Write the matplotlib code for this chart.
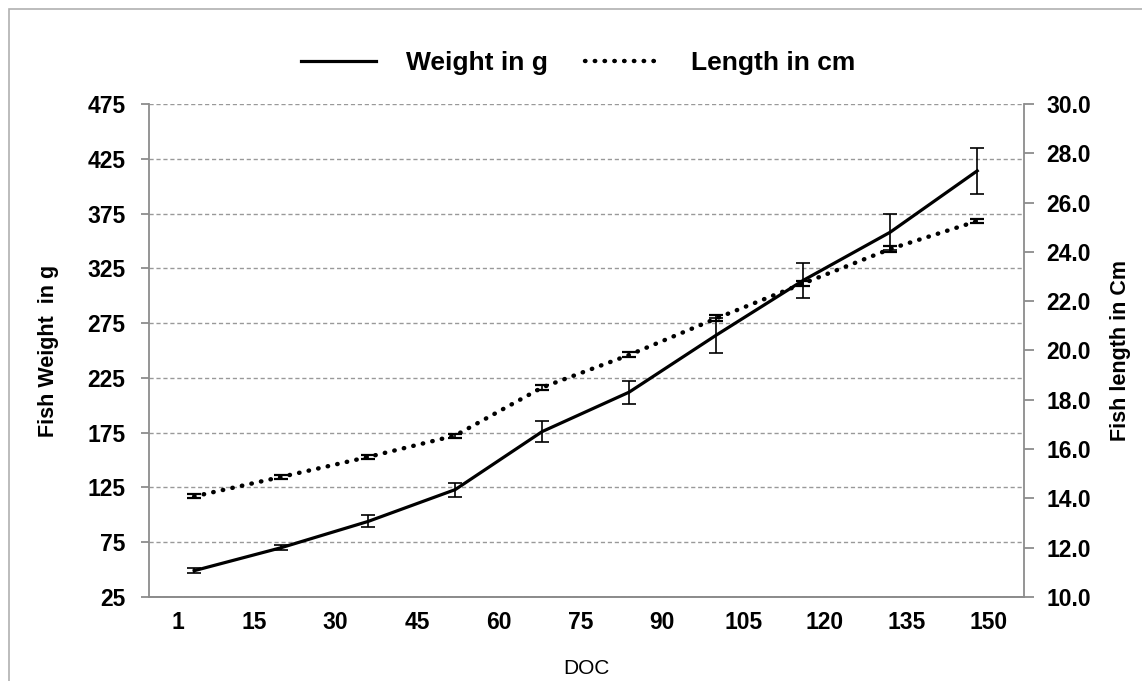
import matplotlib
matplotlib.use("Agg")
import matplotlib.pyplot as plt
from matplotlib.lines import Line2D
from matplotlib.patches import Rectangle

plt.rcParams["font.family"] = ["Liberation Sans", "DejaVu Sans"]
plt.rcParams["font.weight"] = "bold"

doc = [4, 20, 36, 52, 68, 84, 100, 116, 132, 148]
weight = [49, 70, 94, 123, 176, 212, 264, 314, 358, 414]
weight_err = [2.5, 2.5, 5.5, 6.5, 9.5, 10.5, 16, 16, 16.5, 21]
length = [14.08, 14.87, 15.68, 16.55, 18.5, 19.82, 21.3, 22.72, 24.12, 25.25]
length_err = [0.08, 0.08, 0.08, 0.08, 0.1, 0.1, 0.12, 0.1, 0.12, 0.08]

doc_ticks = [1, 15, 30, 45, 60, 75, 90, 105, 120, 135, 150]
weight_ticks = list(range(25, 476, 50))
length_ticks = [10 + 2 * i for i in range(11)]

W, H = 1142, 681
fig = plt.figure(figsize=(W / 100, H / 100), dpi=100)
ax = fig.add_axes([149 / W, 1 - 597 / H, (1024 - 149) / W, (597 - 104) / H])
ax2 = ax.twinx()

grey = "#8c8c8c"

ax.errorbar(doc, weight, yerr=weight_err, color="black", lw=2.3, elinewidth=1.2,
            capsize=5, capthick=1.2, zorder=3)
ax2.errorbar(doc, length, yerr=length_err, color="black", lw=3.2, elinewidth=1.2,
             capsize=5, capthick=1.6, ls=(0, (0.1, 2.1)), dash_capstyle="round", zorder=3)

ax.set_xlim(-4.3, 156.6)
ax.set_ylim(25, 475)
ax2.set_ylim(10, 30)
ax.set_xticks(doc_ticks)
ax.set_xticklabels([str(d) for d in doc_ticks], fontweight="bold")
ax.set_yticks(weight_ticks)
ax.set_yticklabels([str(v) for v in weight_ticks], fontweight="bold")
ax2.set_yticks(length_ticks)
ax2.set_yticklabels([f"{v:.1f}" for v in length_ticks], fontweight="bold")

ax.yaxis.grid(True, ls=(0, (3, 2)), color="#999999", lw=1)
ax.set_axisbelow(True)

for a in (ax, ax2):
    for s in a.spines.values():
        s.set_color(grey)
        s.set_linewidth(1.3)
    a.spines["top"].set_visible(False)
ax.spines["right"].set_visible(False)
ax2.spines["left"].set_visible(False)

ax.tick_params(axis="x", length=0, pad=10, labelsize=16.5)
ax.tick_params(axis="y", length=6, color=grey, width=1.3, pad=11, labelsize=16.5)
ax2.tick_params(axis="y", length=7, color=grey, width=1.3, pad=9, labelsize=16.5)

ax.set_xlabel("DOC", fontsize=15, fontweight="normal", labelpad=18)
ax.set_ylabel("Fish Weight  in g", fontsize=15.5, fontweight="bold", labelpad=20)
ax2.set_ylabel("Fish length in Cm", fontsize=15.5, fontweight="bold", labelpad=14)

handles = [Line2D([], [], color="black", lw=2.3),
           Line2D([], [], color="black", lw=3.2, ls=(0, (0.1, 2.1)), dash_capstyle="round")]
fig.legend(handles, ["Weight in g", "Length in cm"], loc="center", ncol=2,
           bbox_to_anchor=(578 / W, 1 - 63 / H), frameon=False,
           prop={"size": 19, "weight": "bold"}, handlelength=2.85,
           handletextpad=1.15, columnspacing=1.4)

fig.patches.append(Rectangle((9 / W, -0.05), 1.1, 1 - 9 / H + 0.05,
                             transform=fig.transFigure, fill=False,
                             edgecolor="#b0b0b0", lw=1.2))

fig.savefig("out.png", dpi=100)
